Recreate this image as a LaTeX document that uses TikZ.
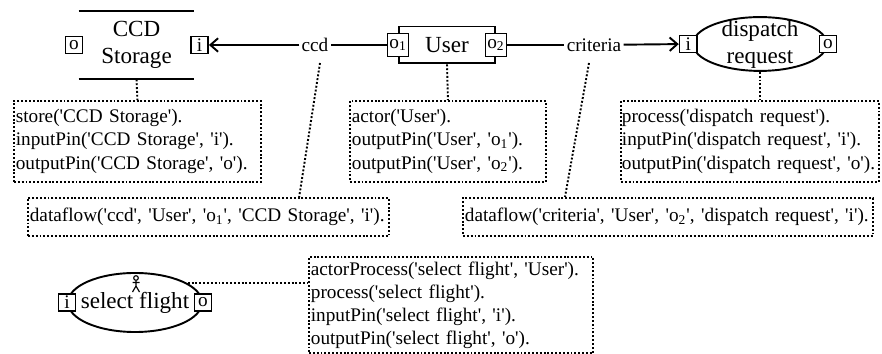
\documentclass[tikz,border=0pt]{standalone}
\usepackage{fontspec}
\setmainfont{Liberation Serif}
\usetikzlibrary{shapes.geometric,arrows.meta,calc}
\newcommand{\q}{\textquotesingle}
\tikzset{
  pinbox/.style={draw, fill=white, line width=0.8pt, inner sep=1pt, minimum width=9pt, minimum height=9pt},
  note/.style={draw, line width=1pt, dash pattern=on 1pt off 1pt, align=left, inner xsep=1pt, inner ysep=2pt, anchor=north west},
  tie/.style={line width=1pt, dash pattern=on 1pt off 1pt},
  flow/.style={line width=1pt},
  flowto/.style={flow, -{Straight Barb[length=4pt,width=7pt]}},
  proc/.style={ellipse, draw, line width=1pt, inner sep=0pt},
  elemtext/.style={font=\large, align=center, inner sep=0pt}
}
\begin{document}
\begin{tikzpicture}[x=0.52pt, y=-0.52pt]
    \useasboundingbox (0,0) rectangle (882,354);
    % store
    \node[elemtext, minimum width=59.8pt, minimum height=35.4pt] (st) at (136.5,45) {CCD\\Storage};
    \draw[flow] (st.north west) -- (st.north east);
    \draw[flow] (st.south west) -- (st.south east);
    \node[pinbox] (sto) at (74,45) {o};
    \node[pinbox] (sti) at (199.5,45) {i};
    % actor
    \node[draw, flow, elemtext, minimum width=49.9pt, minimum height=19.2pt] (us) at (447,45) {User};
    \node[pinbox, minimum height=12pt] (uo1) at (us.west) {o\textsubscript{1}};
    \node[pinbox, minimum height=12pt] (uo2) at (us.east) {o\textsubscript{2}};
    % process
    \node[proc, minimum width=69.7pt, minimum height=28pt] (dr) at (760,44) {};
    \node[elemtext] (drtext) at (dr) {dispatch\\request};
    \node[pinbox] (dri) at ([xshift=-2pt]dr.west) {i};
    \node[pinbox] (dro) at (dr.east) {o};
    % flows
    \node[inner sep=1pt] (ccd) at (315,45) {ccd};
    \node[inner sep=1pt] (crit) at (594,45) {criteria};
    \draw[flow] (uo1) -- (ccd);
    \draw[flowto] (ccd) -- (sti);
    \draw[flow] (uo2) -- (crit);
    \draw[flowto] (crit) -- (dri);
    % facts
    \node[note, text width=126.4pt, minimum height=42pt] (stinfo) at (13,100)
      {store(\q CCD Storage\q).\\inputPin(\q CCD Storage\q, \q i\q).\\outputPin(\q CCD Storage\q, \q o\q).};
    \node[note, text width=99.9pt, minimum height=42pt] (usinfo) at (349,100)
      {actor(\q User\q).\\outputPin(\q User\q, \q o\textsubscript{1}\q).\\outputPin(\q User\q, \q o\textsubscript{2}\q).};
    \node[note, text width=133pt, inner xsep=0.5pt, minimum height=42pt] (drinfo) at (620,100)
      {process(\q dispatch request\q).\\inputPin(\q dispatch request\q, \q i\q).\\outputPin(\q dispatch request\q, \q o\q).};
    \node[note, text width=185.7pt, minimum height=19.8pt] (ccdflow) at (27,197)
      {dataflow(\q ccd\q, \q User\q, \q o\textsubscript{1}\q, \q CCD Storage\q, \q i\q).};
    \node[note, text width=211.2pt, minimum height=19.8pt] (critflow) at (462,197)
      {dataflow(\q criteria\q, \q User\q, \q o\textsubscript{2}\q, \q dispatch request\q, \q i\q).};
    \node[note, text width=145.7pt, minimum height=50pt] (sfinfo) at (308,256)
      {actorProcess(\q select flight\q, \q User\q).\\process(\q select flight\q).\\inputPin(\q select flight\q, \q i\q).\\outputPin(\q select flight\q, \q o\q).};
    % actor process
    \node[proc, minimum width=69.7pt, minimum height=30.7pt] (sf) at (135,302.5) {};
    \node[elemtext] (sftext) at (sf) {select flight};
    \node[pinbox] (sfi) at (sf.west) {i};
    \node[pinbox] (sfo) at (sf.east) {o};
    \begin{scope}[shift={(sf.north)}, line width=0.6pt]
      \draw (1,6) circle[radius=1.2pt];
      \draw (1,8.5) -- (1,14) (-2.5,10.5) -- (4.5,10.5) (-2.5,20) -- (1,14) -- (4.5,20);
    \end{scope}
    % ties
    \draw[tie] (st.south) -- (stinfo.north);
    \draw[tie] (us.south) -- (usinfo.north);
    \draw[tie] (dr.south) -- (dr.south |- drinfo.north);
    \draw[tie] ([shift={(5,18)}]ccd.center) -- ($(ccdflow.north west)!0.75!(ccdflow.north east)$);
    \draw[tie] ([shift={(-5,18)}]crit.center) -- ($(critflow.north west)!0.25!(critflow.north east)$);
    \draw[tie] (sf.20) -- (sf.20 -| sfinfo.west);
\end{tikzpicture}
\end{document}
